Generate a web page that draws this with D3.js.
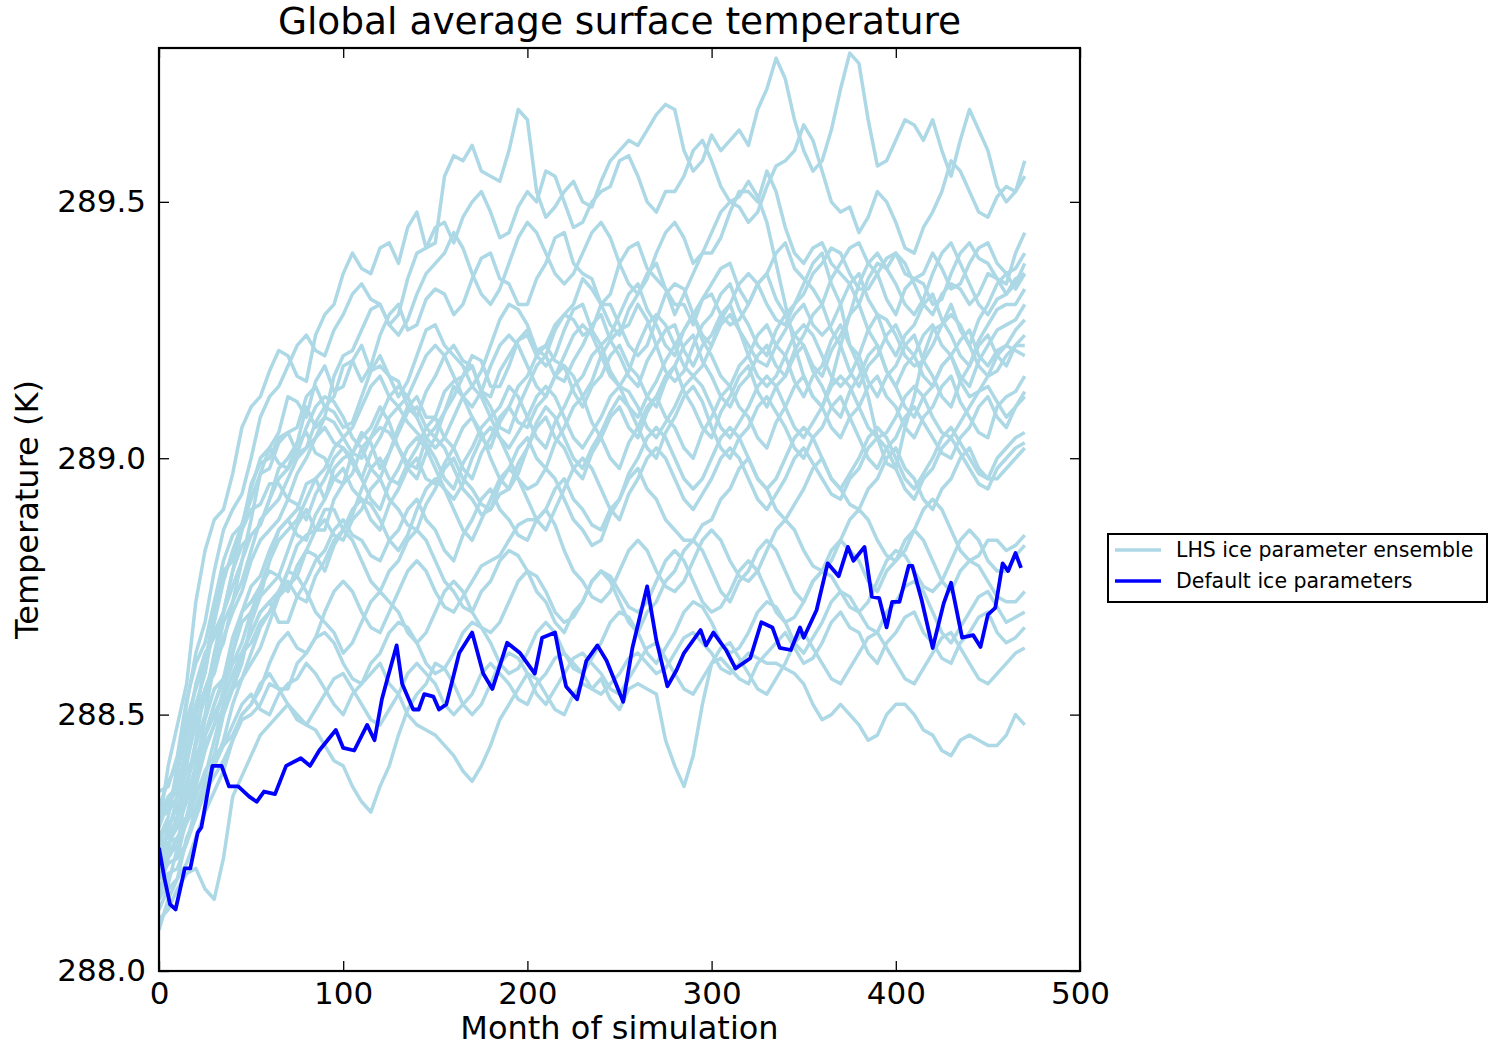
<!DOCTYPE html>
<html>
<head>
<meta charset="utf-8">
<script src="https://cdn.jsdelivr.net/npm/d3@7"></script>
<style>
  html, body { margin: 0; padding: 0; background: #fff; }
  svg { display: block; font-family: "DejaVu Sans", sans-serif; }
</style>
</head>
<body>
<svg id="chart" width="1493" height="1047"></svg>
<script>
// ---------- DATA ----------
const title = "Global average surface temperature";
const xLabel = "Month of simulation";
const yLabel = "Temperature (K)";
const xTicks = [0, 100, 200, 300, 400, 500];
const yTicks = [288.0, 288.5, 289.0, 289.5];
const legendLabels = ["LHS ice parameter ensemble", "Default ice parameters"];

// Ensemble: readings at months 0,10,...,470 and in-between readings at months 5,15,...,465
const ensembleMonths = [0,10,20,30,40,50,60,70,80,90,100,110,120,130,140,150,160,170,180,190,200,210,220,230,240,250,260,270,280,290,300,310,320,330,340,350,360,370,380,390,400,410,420,430,440,450,460,470];
const ensembleMidMonths = [5,15,25,35,45,55,65,75,85,95,105,115,125,135,145,155,165,175,185,195,205,215,225,235,245,255,265,275,285,295,305,315,325,335,345,355,365,375,385,395,405,415,425,435,445,455,465];

const ens01 = [288.28,288.48,288.72,288.88,288.97,289.10,289.17,289.20,289.15,289.28,289.36,289.37,289.41,289.38,289.48,289.42,289.59,289.61,289.55,289.60,289.66,289.47,289.52,289.50,289.54,289.60,289.61,289.67,289.68,289.56,289.63,289.62,289.61,289.72,289.74,289.60,289.58,289.72,289.77,289.57,289.62,289.65,289.66,289.55,289.68,289.60,289.50,289.58];
const ens01m = [288.40,288.56,288.82,288.90,289.06,289.12,289.21,289.16,289.24,289.30,289.40,289.36,289.42,289.45,289.41,289.55,289.58,289.56,289.54,289.68,289.52,289.49,289.54,289.49,289.58,289.62,289.64,289.69,289.60,289.58,289.60,289.64,289.68,289.78,289.66,289.56,289.64,289.79,289.66,289.58,289.66,289.62,289.60,289.62,289.64,289.53,289.52];
const ens02 = [288.20,288.32,288.45,288.60,288.72,288.85,288.92,289.00,289.10,289.08,289.20,289.25,289.30,289.28,289.40,289.45,289.42,289.50,289.48,289.44,289.52,289.56,289.50,289.46,289.52,289.58,289.55,289.48,289.52,289.60,289.58,289.50,289.46,289.53,289.58,289.65,289.56,289.48,289.44,289.52,289.46,289.40,289.48,289.58,289.52,289.47,289.53,289.55];
const ens02m = [288.28,288.36,288.55,288.64,288.80,288.87,288.98,289.03,289.06,289.16,289.21,289.29,289.26,289.35,289.41,289.46,289.47,289.52,289.43,289.49,289.50,289.55,289.45,289.50,289.53,289.59,289.50,289.52,289.55,289.62,289.53,289.49,289.48,289.57,289.60,289.62,289.50,289.49,289.47,289.50,289.41,289.45,289.52,289.56,289.48,289.51,289.52];
const ens03 = [288.30,288.38,288.55,288.70,288.80,288.95,289.00,289.05,289.12,289.10,289.18,289.15,289.24,289.30,289.26,289.33,289.28,289.35,289.40,289.34,289.30,289.38,289.44,289.36,289.30,289.38,289.42,289.35,289.28,289.36,289.40,289.48,289.52,289.56,289.45,289.38,289.42,289.36,289.30,289.38,289.40,289.35,289.30,289.36,289.42,289.38,289.34,289.44];
const ens03m = [288.31,288.49,288.60,288.78,288.86,288.99,289.04,289.06,289.14,289.12,289.19,289.18,289.28,289.25,289.31,289.32,289.30,289.39,289.35,289.30,289.35,289.43,289.38,289.35,289.32,289.41,289.37,289.33,289.32,289.40,289.43,289.52,289.50,289.52,289.40,289.41,289.38,289.34,289.35,289.37,289.36,289.34,289.31,289.40,289.39,289.35,289.40];
const ens04 = [288.22,288.30,288.48,288.62,288.75,288.88,289.02,289.12,289.08,289.18,289.14,289.22,289.18,289.12,289.20,289.26,289.20,289.14,289.22,289.30,289.26,289.20,289.28,289.35,289.30,289.24,289.32,289.38,289.30,289.26,289.34,289.38,289.30,289.36,289.42,289.35,289.30,289.38,289.42,289.36,289.28,289.35,289.40,289.33,289.38,289.42,289.36,289.40];
const ens04m = [288.24,288.41,288.53,288.70,288.80,288.97,289.05,289.11,289.15,289.13,289.19,289.17,289.16,289.15,289.25,289.22,289.18,289.17,289.27,289.29,289.21,289.25,289.30,289.33,289.26,289.29,289.36,289.33,289.30,289.31,289.37,289.33,289.34,289.40,289.37,289.33,289.35,289.41,289.38,289.31,289.33,289.36,289.37,289.34,289.41,289.38,289.37];
const ens05 = [288.15,288.25,288.38,288.50,288.62,288.70,288.80,288.88,288.95,288.92,289.00,289.05,288.98,289.06,289.12,289.08,289.15,289.20,289.14,289.18,289.25,289.22,289.28,289.24,289.30,289.26,289.20,289.27,289.34,289.28,289.22,289.30,289.36,289.30,289.26,289.32,289.38,289.40,289.33,289.36,289.40,289.34,289.28,289.34,289.30,289.36,289.32,289.38];
const ens05m = [288.22,288.29,288.46,288.54,288.68,288.73,288.86,288.90,288.96,288.98,289.01,289.03,289.01,289.10,289.08,289.13,289.16,289.19,289.14,289.23,289.21,289.26,289.27,289.25,289.30,289.22,289.22,289.32,289.33,289.24,289.27,289.34,289.34,289.27,289.30,289.36,289.41,289.36,289.33,289.39,289.38,289.30,289.32,289.33,289.32,289.35,289.34];
const ens06 = [288.35,288.42,288.60,288.72,288.85,288.92,288.98,289.05,289.02,289.10,289.06,289.12,289.20,289.15,289.08,289.16,289.22,289.18,289.12,289.20,289.24,289.18,289.25,289.30,289.22,289.28,289.34,289.26,289.20,289.28,289.32,289.26,289.30,289.36,289.28,289.34,289.40,289.30,289.18,289.04,288.98,289.12,289.25,289.30,289.22,289.30,289.36,289.36];
const ens06m = [288.36,288.53,288.64,288.80,288.87,288.97,289.03,289.01,289.07,289.09,289.07,289.17,289.16,289.10,289.13,289.20,289.19,289.13,289.17,289.23,289.20,289.20,289.29,289.25,289.24,289.32,289.29,289.22,289.25,289.31,289.28,289.27,289.34,289.31,289.30,289.38,289.34,289.22,289.12,288.99,289.06,289.20,289.26,289.25,289.27,289.34,289.33];
const ens07 = [288.18,288.22,288.35,288.45,288.55,288.68,288.75,288.82,288.90,288.86,288.95,289.02,288.96,289.05,289.10,289.04,289.12,289.18,289.10,289.05,289.14,289.20,289.15,289.22,289.28,289.20,289.14,289.22,289.26,289.18,289.24,289.30,289.22,289.18,289.25,289.30,289.24,289.30,289.36,289.28,289.20,289.26,289.32,289.24,289.18,289.26,289.30,289.33];
const ens07m = [288.21,288.30,288.38,288.52,288.60,288.73,288.77,288.87,288.86,288.92,288.97,288.98,289.01,289.09,289.06,289.09,289.16,289.13,289.06,289.10,289.18,289.16,289.19,289.26,289.23,289.16,289.19,289.25,289.21,289.22,289.28,289.25,289.19,289.22,289.28,289.26,289.26,289.34,289.31,289.23,289.24,289.30,289.27,289.20,289.23,289.29,289.30];
const ens08 = [288.28,288.35,288.50,288.66,288.78,288.85,288.92,288.98,289.05,289.00,288.95,289.04,289.10,289.02,288.98,289.06,289.14,289.08,289.02,289.10,289.16,289.22,289.18,289.12,289.20,289.25,289.30,289.22,289.15,289.22,289.28,289.34,289.26,289.20,289.28,289.22,289.16,289.24,289.30,289.22,289.14,289.20,289.26,289.20,289.14,289.22,289.26,289.30];
const ens08m = [288.33,288.40,288.60,288.70,288.83,288.87,288.96,289.03,289.01,288.96,289.01,289.06,289.07,288.99,289.04,289.09,289.12,289.04,289.07,289.14,289.20,289.19,289.16,289.15,289.23,289.26,289.27,289.17,289.17,289.26,289.32,289.29,289.22,289.25,289.24,289.18,289.21,289.28,289.25,289.17,289.18,289.24,289.22,289.16,289.19,289.25,289.27];
const ens09 = [288.12,288.18,288.30,288.42,288.55,288.62,288.70,288.78,288.85,288.90,288.86,288.94,289.00,288.95,289.02,289.08,289.02,288.96,289.04,289.10,289.06,289.12,289.18,289.10,289.16,289.22,289.16,289.10,289.18,289.24,289.16,289.10,289.16,289.22,289.16,289.24,289.30,289.22,289.14,289.20,289.26,289.20,289.14,289.20,289.25,289.18,289.22,289.27];
const ens09m = [288.16,288.26,288.35,288.50,288.57,288.67,288.73,288.83,288.86,288.90,288.89,288.98,288.96,288.99,289.06,289.04,288.98,289.01,289.08,289.07,289.10,289.16,289.13,289.14,289.20,289.18,289.12,289.15,289.22,289.19,289.12,289.14,289.20,289.18,289.21,289.28,289.25,289.17,289.18,289.24,289.22,289.16,289.18,289.23,289.20,289.21,289.25];
const ens10 = [288.32,288.40,288.56,288.65,288.78,288.90,288.95,288.92,289.00,289.06,289.02,288.96,289.04,289.10,289.05,289.00,288.94,289.02,289.08,289.14,289.08,289.02,289.10,289.16,289.22,289.14,289.08,289.15,289.22,289.28,289.20,289.14,289.20,289.26,289.20,289.12,289.18,289.26,289.20,289.12,289.18,289.24,289.16,289.10,289.18,289.24,289.18,289.24];
const ens10m = [288.37,288.46,288.62,288.70,288.86,288.91,288.95,288.97,289.04,289.03,288.99,289.01,289.08,289.07,289.03,288.96,288.99,289.06,289.10,289.12,289.04,289.07,289.14,289.20,289.17,289.10,289.12,289.19,289.25,289.23,289.16,289.18,289.24,289.22,289.15,289.16,289.23,289.22,289.15,289.16,289.22,289.19,289.12,289.15,289.22,289.20,289.22];
const ens11 = [288.20,288.28,288.40,288.55,288.62,288.75,288.82,288.88,288.84,288.92,288.98,288.92,288.86,288.94,289.00,288.95,289.02,289.08,289.00,288.94,289.02,289.08,289.02,288.96,289.04,289.10,289.04,289.12,289.18,289.10,289.04,289.12,289.18,289.10,289.16,289.22,289.14,289.08,289.16,289.22,289.14,289.08,289.14,289.20,289.12,289.16,289.22,289.20];
const ens11m = [288.25,288.33,288.49,288.57,288.70,288.77,288.86,288.85,288.89,288.96,288.94,288.88,288.91,288.98,288.96,288.99,289.06,289.05,288.96,288.99,289.06,289.04,288.98,289.01,289.08,289.06,289.09,289.16,289.13,289.06,289.09,289.16,289.13,289.14,289.20,289.17,289.10,289.13,289.20,289.17,289.10,289.12,289.18,289.15,289.13,289.20,289.21];
const ens12 = [288.25,288.30,288.42,288.48,288.60,288.70,288.78,288.74,288.82,288.88,288.84,288.90,288.96,288.90,288.86,288.94,289.00,288.94,288.90,288.98,289.04,288.98,289.06,289.12,289.04,288.98,289.06,289.12,289.06,289.00,289.08,289.14,289.08,289.02,289.10,289.16,289.10,289.04,289.10,289.16,289.10,289.04,289.10,289.16,289.08,289.04,289.12,289.16];
const ens12m = [288.26,288.37,288.44,288.55,288.64,288.75,288.77,288.79,288.86,288.85,288.88,288.94,288.92,288.87,288.91,288.98,288.96,288.91,288.95,289.02,289.00,289.03,289.10,289.07,289.00,289.03,289.10,289.08,289.02,289.05,289.12,289.10,289.04,289.07,289.14,289.12,289.06,289.08,289.14,289.12,289.06,289.08,289.14,289.11,289.05,289.10,289.13];
const ens13 = [288.18,288.26,288.38,288.52,288.65,288.72,288.80,288.86,288.92,288.98,289.04,289.00,289.06,289.02,288.96,289.04,288.98,288.92,288.90,288.94,289.02,289.10,289.04,288.98,289.05,289.12,289.06,289.00,289.08,289.14,289.06,289.00,289.06,289.12,289.06,289.00,289.06,289.12,289.04,288.98,289.04,289.10,289.04,289.00,289.06,289.12,289.06,289.12];
const ens13m = [288.23,288.30,288.46,288.57,288.70,288.75,288.84,288.88,288.96,289.02,289.01,289.04,289.05,288.98,289.01,289.02,288.94,288.89,288.93,288.97,289.07,289.08,289.00,289.02,289.09,289.10,289.02,289.05,289.12,289.11,289.02,289.04,289.10,289.09,289.02,289.04,289.10,289.08,289.00,289.02,289.08,289.07,289.01,289.04,289.10,289.08,289.10];
const ens14 = [288.30,288.36,288.50,288.58,288.70,288.80,288.86,288.92,288.88,288.96,289.02,288.96,288.90,288.98,289.04,288.98,288.92,289.00,289.06,289.00,288.94,288.98,288.92,288.86,288.84,288.92,289.00,289.06,289.00,288.94,289.00,289.06,289.00,288.94,289.00,289.06,289.00,288.94,289.00,289.06,289.00,288.94,289.00,289.06,289.00,288.96,289.02,289.05];
const ens14m = [288.34,288.42,288.55,288.65,288.74,288.84,288.88,288.91,288.93,289.00,289.00,288.92,288.95,289.02,289.02,288.94,288.95,289.04,289.04,288.96,288.95,288.96,288.88,288.83,288.89,288.97,289.04,289.04,288.96,288.96,289.04,289.04,288.96,288.96,289.04,289.04,288.96,288.97,289.04,289.04,288.96,288.97,289.04,289.03,288.97,289.00,289.04];
const ens15 = [288.15,288.20,288.32,288.40,288.52,288.60,288.68,288.75,288.82,288.78,288.86,288.92,288.88,288.82,288.90,288.96,288.90,288.84,288.92,288.98,288.92,288.86,288.94,289.00,288.94,288.88,288.96,289.02,288.96,288.90,288.96,289.02,288.96,288.90,288.96,289.02,288.96,288.92,288.98,289.04,288.98,288.92,288.98,289.04,288.98,288.94,289.00,289.03];
const ens15m = [288.19,288.25,288.37,288.45,288.57,288.63,288.73,288.77,288.81,288.83,288.90,288.91,288.84,288.85,288.94,288.94,288.86,288.88,288.96,288.96,288.88,288.90,288.98,288.98,288.90,288.93,289.00,289.00,288.92,288.93,289.00,289.00,288.92,288.93,289.00,288.99,288.93,288.96,289.02,289.02,288.94,288.96,289.02,289.01,288.95,288.98,289.02];
const ens16 = [288.22,288.28,288.36,288.48,288.56,288.66,288.72,288.68,288.76,288.82,288.88,288.84,288.80,288.86,288.92,288.86,288.80,288.88,288.94,288.88,288.84,288.90,288.96,288.90,288.86,288.92,288.98,288.92,288.86,288.84,288.88,288.94,289.00,288.94,288.88,288.94,289.00,288.94,288.90,288.96,289.02,288.96,288.90,288.96,289.02,288.96,288.98,289.02];
const ens16m = [288.27,288.30,288.43,288.51,288.62,288.70,288.68,288.73,288.80,288.86,288.85,288.81,288.84,288.90,288.88,288.82,288.85,288.92,288.90,288.85,288.88,288.94,288.92,288.87,288.90,288.96,288.94,288.88,288.84,288.87,288.92,288.98,288.96,288.90,288.91,288.98,288.96,288.91,288.94,289.00,288.98,288.92,288.94,289.00,288.98,288.96,289.00];
const ens17 = [288.08,288.18,288.26,288.35,288.45,288.52,288.60,288.66,288.62,288.70,288.76,288.70,288.66,288.74,288.80,288.74,288.70,288.76,288.80,288.84,288.88,288.90,288.82,288.76,288.72,288.78,288.84,288.78,288.74,288.80,288.86,288.80,288.76,288.82,288.88,288.82,288.78,288.84,288.90,288.84,288.80,288.86,288.92,288.86,288.80,288.84,288.82,288.85];
const ens17m = [288.14,288.21,288.31,288.39,288.50,288.55,288.64,288.63,288.65,288.74,288.74,288.67,288.70,288.78,288.78,288.71,288.73,288.79,288.81,288.87,288.88,288.87,288.78,288.73,288.74,288.82,288.82,288.75,288.76,288.84,288.84,288.77,288.78,288.86,288.86,288.79,288.80,288.88,288.88,288.81,288.82,288.90,288.90,288.82,288.81,288.84,288.83];
const ens18 = [288.25,288.30,288.40,288.50,288.58,288.64,288.70,288.76,288.72,288.80,288.86,288.80,288.74,288.80,288.86,288.80,288.74,288.70,288.76,288.82,288.78,288.72,288.66,288.72,288.78,288.72,288.66,288.72,288.78,288.84,288.78,288.72,288.78,288.84,288.78,288.72,288.78,288.84,288.80,288.74,288.80,288.86,288.80,288.74,288.80,288.76,288.72,288.74];
const ens18m = [288.29,288.34,288.46,288.53,288.62,288.68,288.74,288.73,288.77,288.84,288.84,288.76,288.78,288.84,288.84,288.76,288.71,288.74,288.80,288.81,288.74,288.68,288.70,288.76,288.76,288.68,288.70,288.76,288.82,288.82,288.74,288.76,288.82,288.82,288.74,288.76,288.82,288.82,288.76,288.78,288.84,288.84,288.76,288.78,288.79,288.73,288.72];
const ens19 = [288.20,288.24,288.32,288.40,288.46,288.52,288.58,288.55,288.62,288.66,288.60,288.56,288.62,288.68,288.64,288.58,288.62,288.68,288.64,288.58,288.62,288.68,288.62,288.58,288.64,288.70,288.66,288.60,288.66,288.72,288.68,288.62,288.66,288.72,288.68,288.62,288.68,288.74,288.70,288.66,288.72,288.76,288.70,288.64,288.70,288.74,288.68,288.70];
const ens19m = [288.23,288.29,288.35,288.44,288.50,288.56,288.55,288.60,288.65,288.64,288.57,288.60,288.66,288.67,288.60,288.59,288.66,288.67,288.60,288.59,288.66,288.66,288.59,288.61,288.68,288.69,288.62,288.63,288.70,288.71,288.64,288.63,288.70,288.71,288.64,288.65,288.72,288.73,288.67,288.70,288.75,288.74,288.66,288.67,288.73,288.71,288.69];
const ens20 = [288.22,288.26,288.34,288.42,288.48,288.54,288.50,288.56,288.60,288.55,288.50,288.56,288.60,288.54,288.48,288.46,288.42,288.37,288.44,288.52,288.58,288.54,288.50,288.56,288.57,288.51,288.56,288.54,288.40,288.42,288.60,288.59,288.56,288.62,288.66,288.60,288.64,288.70,288.66,288.60,288.66,288.70,288.64,288.60,288.66,288.70,288.64,288.67];
const ens20m = [288.25,288.29,288.39,288.44,288.52,288.51,288.54,288.57,288.58,288.52,288.54,288.58,288.56,288.50,288.47,288.44,288.39,288.40,288.49,288.55,288.57,288.51,288.54,288.55,288.53,288.55,288.55,288.45,288.36,288.52,288.61,288.57,288.60,288.64,288.63,288.61,288.68,288.67,288.62,288.64,288.69,288.66,288.61,288.64,288.69,288.66,288.65];
const ens21 = [288.18,288.22,288.30,288.38,288.45,288.50,288.56,288.52,288.48,288.44,288.40,288.33,288.36,288.46,288.54,288.60,288.56,288.50,288.56,288.62,288.58,288.52,288.58,288.62,288.58,288.54,288.60,288.64,288.58,288.54,288.60,288.64,288.58,288.54,288.60,288.66,288.60,288.56,288.62,288.66,288.60,288.56,288.62,288.66,288.60,288.56,288.60,288.63];
const ens21m = [288.21,288.25,288.35,288.41,288.49,288.52,288.55,288.49,288.47,288.41,288.36,288.31,288.40,288.51,288.56,288.59,288.52,288.52,288.60,288.61,288.54,288.55,288.61,288.60,288.55,288.57,288.63,288.61,288.55,288.57,288.63,288.61,288.55,288.57,288.64,288.63,288.57,288.59,288.65,288.63,288.57,288.59,288.65,288.63,288.57,288.58,288.62];
const ens22 = [288.10,288.16,288.20,288.14,288.34,288.42,288.48,288.52,288.48,288.54,288.58,288.52,288.48,288.54,288.60,288.56,288.50,288.54,288.60,288.56,288.52,288.58,288.62,288.58,288.54,288.58,288.62,288.58,288.62,288.66,288.62,288.58,288.62,288.60,288.59,288.56,288.49,288.52,288.48,288.46,288.52,288.50,288.46,288.42,288.46,288.44,288.46,288.48];
const ens22m = [288.12,288.19,288.16,288.22,288.38,288.46,288.50,288.50,288.51,288.57,288.55,288.49,288.51,288.58,288.58,288.52,288.52,288.58,288.58,288.53,288.56,288.61,288.60,288.55,288.56,288.61,288.60,288.59,288.65,288.64,288.59,288.60,288.61,288.60,288.58,288.52,288.50,288.50,288.45,288.50,288.52,288.47,288.43,288.45,288.45,288.44,288.50];
const ens23 = [288.26,288.40,288.62,288.78,288.90,289.00,289.12,289.18,289.24,289.20,289.28,289.34,289.30,289.24,289.32,289.38,289.44,289.36,289.30,289.38,289.46,289.40,289.34,289.40,289.46,289.38,289.32,289.40,289.46,289.38,289.44,289.50,289.54,289.46,289.30,289.16,289.10,289.22,289.34,289.40,289.34,289.28,289.36,289.42,289.34,289.28,289.32,289.36];
const ens23m = [288.30,288.52,288.68,288.86,288.93,289.08,289.14,289.22,289.21,289.25,289.32,289.31,289.26,289.27,289.36,289.40,289.41,289.32,289.33,289.43,289.44,289.36,289.36,289.44,289.43,289.34,289.35,289.44,289.43,289.40,289.48,289.51,289.51,289.38,289.22,289.12,289.15,289.28,289.38,289.37,289.30,289.31,289.40,289.38,289.30,289.31,289.35];
const ens24 = [288.14,288.24,288.44,288.60,288.72,288.82,288.90,288.96,289.02,289.08,289.04,289.10,289.16,289.10,289.16,289.22,289.16,289.10,289.18,289.24,289.18,289.12,289.20,289.26,289.20,289.14,289.22,289.28,289.22,289.16,289.22,289.28,289.20,289.14,289.20,289.26,289.20,289.14,289.20,289.28,289.24,289.18,289.22,289.28,289.22,289.16,289.20,289.22];
const ens24m = [288.17,288.36,288.50,288.68,288.76,288.88,288.92,289.00,289.04,289.07,289.06,289.14,289.12,289.12,289.20,289.20,289.12,289.13,289.22,289.22,289.14,289.16,289.24,289.24,289.16,289.17,289.26,289.26,289.18,289.18,289.26,289.25,289.16,289.16,289.24,289.24,289.16,289.16,289.25,289.27,289.20,289.19,289.26,289.26,289.18,289.17,289.22];
const ens25 = [288.30,288.34,288.42,288.52,288.60,288.66,288.72,288.78,288.74,288.68,288.62,288.68,288.74,288.70,288.64,288.70,288.76,288.70,288.66,288.72,288.78,288.74,288.68,288.72,288.78,288.74,288.70,288.76,288.82,288.76,288.70,288.74,288.80,288.74,288.68,288.72,288.78,288.74,288.70,288.76,288.82,288.78,288.74,288.80,288.86,288.80,288.78,288.83];
const ens25m = [288.31,288.39,288.46,288.57,288.62,288.70,288.74,288.77,288.70,288.66,288.64,288.72,288.72,288.66,288.66,288.74,288.74,288.67,288.68,288.76,288.77,288.70,288.69,288.76,288.77,288.71,288.72,288.80,288.80,288.72,288.71,288.78,288.78,288.70,288.69,288.76,288.77,288.71,288.72,288.80,288.81,288.75,288.76,288.84,288.84,288.78,288.81];
const ens26 = [288.24,288.34,288.52,288.68,288.82,288.94,289.02,288.98,289.06,289.12,289.08,289.02,289.08,289.14,289.08,289.02,289.08,289.14,289.08,289.02,289.08,289.14,289.08,289.02,289.08,289.14,289.10,289.04,289.10,289.16,289.10,289.04,289.10,289.16,289.10,289.04,289.10,289.16,289.10,289.04,289.08,289.14,289.08,289.04,289.10,289.14,289.08,289.13];
const ens26m = [288.27,288.45,288.58,288.76,288.87,289.00,288.99,289.01,289.10,289.11,289.04,289.04,289.12,289.12,289.04,289.04,289.12,289.12,289.04,289.05,289.12,289.12,289.04,289.05,289.12,289.13,289.06,289.07,289.14,289.14,289.06,289.07,289.14,289.14,289.06,289.07,289.14,289.14,289.06,289.05,289.12,289.12,289.05,289.07,289.13,289.11,289.10];

const ensembleSeries = [
  [ens01, ens01m], [ens02, ens02m], [ens03, ens03m], [ens04, ens04m], [ens05, ens05m],
  [ens06, ens06m], [ens07, ens07m], [ens08, ens08m], [ens09, ens09m], [ens10, ens10m],
  [ens11, ens11m], [ens12, ens12m], [ens13, ens13m], [ens14, ens14m], [ens15, ens15m],
  [ens16, ens16m], [ens17, ens17m], [ens18, ens18m], [ens19, ens19m], [ens20, ens20m],
  [ens21, ens21m], [ens22, ens22m], [ens23, ens23m], [ens24, ens24m], [ens25, ens25m],
  [ens26, ens26m]
];

// Default ice parameters run
const defaultMonths = [0,3,6,9,14,17,21,23,29,34,38,43,49,53,57,63,69,77,82,87,96,100,106,113,117,121,124,129,132,138,141,144,149,152,156,163,170,176,181,189,196,204,208,215,218,221,227,232,238,243,252,257,265,270,276,281,285,294,297,301,308,313,321,327,333,337,343,348,350,357,363,369,374,377,383,387,391,395,398,402,407,409,414,420,426,430,436,442,446,450,454,458,461,465,468];
const defaultValues = [288.24,288.18,288.13,288.12,288.20,288.20,288.27,288.28,288.40,288.40,288.36,288.36,288.34,288.33,288.35,288.345,288.40,288.415,288.40,288.43,288.47,288.435,288.43,288.48,288.45,288.53,288.57,288.635,288.56,288.51,288.51,288.54,288.535,288.51,288.52,288.62,288.66,288.58,288.55,288.64,288.62,288.58,288.65,288.66,288.605,288.555,288.53,288.605,288.635,288.605,288.525,288.63,288.75,288.645,288.555,288.587,288.62,288.665,288.635,288.66,288.625,288.59,288.61,288.68,288.67,288.63,288.626,288.67,288.65,288.704,288.795,288.77,288.827,288.80,288.827,288.73,288.727,288.67,288.72,288.72,288.79,288.79,288.724,288.63,288.717,288.757,288.65,288.655,288.632,288.695,288.708,288.795,288.78,288.815,288.786];

// ---------- LAYOUT ----------
const svg = d3.select("#chart");
const plot = { left: 159, right: 1080, top: 48, bottom: 971 };

const x = d3.scaleLinear().domain([0, 500]).range([plot.left, plot.right]);
const y = d3.scaleLinear().domain([288.0, 289.8]).range([plot.bottom, plot.top]);

const ensColor = "#add8e6";
const defColor = "#0000ff";

svg.append("defs").append("clipPath").attr("id", "clip")
  .append("rect")
  .attr("x", plot.left).attr("y", plot.top)
  .attr("width", plot.right - plot.left).attr("height", plot.bottom - plot.top);

const lineGen = d3.line()
  .x(d => x(d[0]))
  .y(d => y(d[1]))
  .curve(d3.curveLinear);

// merge the main readings with the in-between readings, in month order
function seriesPoints(main, mid) {
  const pts = [];
  main.forEach((v, i) => {
    pts.push([ensembleMonths[i], v]);
    if (i < mid.length && i < ensembleMidMonths.length) pts.push([ensembleMidMonths[i], mid[i]]);
  });
  return pts.sort((a, b) => a[0] - b[0]);
}

const gLines = svg.append("g").attr("clip-path", "url(#clip)");

ensembleSeries.forEach(([main, mid]) => {
  gLines.append("path")
    .datum(seriesPoints(main, mid))
    .attr("d", lineGen)
    .attr("fill", "none")
    .attr("stroke", ensColor)
    .attr("stroke-width", 3.5)
    .attr("stroke-linejoin", "round");
});

gLines.append("path")
  .datum(defaultMonths.map((m, i) => [m, defaultValues[i]]))
  .attr("d", lineGen)
  .attr("fill", "none")
  .attr("stroke", defColor)
  .attr("stroke-width", 3.8)
  .attr("stroke-linejoin", "round");

// ---------- AXES (inward ticks on all four sides) ----------
const tickFont = "31px";
const fmtY = d3.format(".1f");

const xAxisB = d3.axisBottom(x).tickValues(xTicks).tickSize(-10).tickPadding(11).tickFormat(d3.format("d"));
const xAxisT = d3.axisTop(x).tickValues(xTicks).tickSize(-10).tickFormat("");
const yAxisL = d3.axisLeft(y).tickValues(yTicks).tickSize(-10).tickPadding(13).tickFormat(fmtY);
const yAxisR = d3.axisRight(y).tickValues(yTicks).tickSize(-10).tickFormat("");

function styleAxis(g) {
  g.select(".domain").remove();
  g.selectAll(".tick line").attr("stroke", "#000").attr("stroke-width", 1.3);
  g.selectAll(".tick text").attr("fill", "#000").style("font-size", tickFont)
    .style("font-family", "'DejaVu Sans', sans-serif");
}

svg.append("g").attr("transform", `translate(0,${plot.bottom})`).call(xAxisB).call(styleAxis);
svg.append("g").attr("transform", `translate(0,${plot.top})`).call(xAxisT).call(styleAxis);
svg.append("g").attr("transform", `translate(${plot.left},0)`).call(yAxisL).call(styleAxis);
svg.append("g").attr("transform", `translate(${plot.right},0)`).call(yAxisR).call(styleAxis);

// frame
svg.append("rect")
  .attr("x", plot.left).attr("y", plot.top)
  .attr("width", plot.right - plot.left).attr("height", plot.bottom - plot.top)
  .attr("fill", "none").attr("stroke", "#000").attr("stroke-width", 2.2);

// ---------- TEXTS ----------
svg.append("text")
  .attr("x", (plot.left + plot.right) / 2).attr("y", 34)
  .attr("text-anchor", "middle")
  .style("font-size", "37.5px")
  .text(title);

svg.append("text")
  .attr("x", (plot.left + plot.right) / 2).attr("y", 1039)
  .attr("text-anchor", "middle")
  .style("font-size", "32px")
  .text(xLabel);

svg.append("text")
  .attr("transform", `translate(38,${(plot.top + plot.bottom) / 2}) rotate(-90)`)
  .attr("text-anchor", "middle")
  .style("font-size", "32px")
  .text(yLabel);

// ---------- LEGEND ----------
const lg = svg.append("g");
lg.append("rect")
  .attr("x", 1108).attr("y", 534).attr("width", 379).attr("height", 68)
  .attr("fill", "#fff").attr("stroke", "#000").attr("stroke-width", 2);

const legendColors = [ensColor, defColor];
legendLabels.forEach((lab, i) => {
  const yy = 550 + i * 31;
  lg.append("line")
    .attr("x1", 1115).attr("x2", 1161).attr("y1", yy).attr("y2", yy)
    .attr("stroke", legendColors[i]).attr("stroke-width", 3.5);
  lg.append("text")
    .attr("x", 1176).attr("y", yy + 7)
    .style("font-size", "20.5px")
    .text(lab);
});
</script>
</body>
</html>
